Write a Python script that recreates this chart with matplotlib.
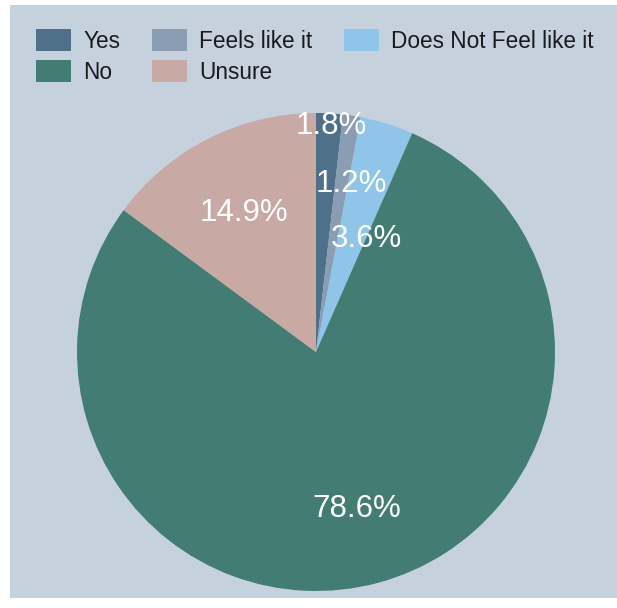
import numpy as np
import matplotlib.pyplot as plt
from matplotlib.patches import Patch, Rectangle
from matplotlib.transforms import offset_copy

plt.rcParams['font.family'] = ['Liberation Sans', 'DejaVu Sans']

# Survey answers, clockwise from 12 o'clock
answers = ["Yes", "Feels like it", "Does Not Feel like it", "No", "Unsure"]
shares = [1.8, 1.2, 3.6, 78.6, 14.9]
colors = ["#4e7089", "#8a9db3", "#8ec5e8", "#427c73", "#c8a9a3"]

# where the percentage text sits (fraction of radius, extra clockwise turn in degrees)
label_radius = [0.96, 0.73, 0.53, 0.665, 0.665]
label_turn = [0.5, 3.0, 6.0, 0.0, 0.0]

W, H = 617, 608
fig = plt.figure(figsize=(W / 100, H / 100), dpi=100, facecolor="white")
fig.patches.append(Rectangle((10 / W, 10 / H), 1 - 10 / W, 1 - 15 / H,
                             transform=fig.transFigure, facecolor="#c5d2de",
                             edgecolor="none", zorder=-5))

cx, cy, R = 316, 352, 239
ax = fig.add_axes([(cx - R) / W, (H - cy - R) / H, 2 * R / W, 2 * R / H])
ax.set_facecolor("none")
ax.set_zorder(2)

wedges, _ = ax.pie(shares, colors=colors, startangle=90, counterclock=False,
                   radius=1, wedgeprops=dict(linewidth=0))
ax.set_xlim(-1, 1)
ax.set_ylim(-1, 1)
ax.set_aspect("equal")
ax.axis("off")

# nudge the percentage text a little below its anchor
text_tf = offset_copy(ax.transData, fig=fig, y=-3, units="dots")
total = sum(shares)
start = 0.0
for val, rad, turn in zip(shares, label_radius, label_turn):
    mid = np.deg2rad((start + val / 2) / total * 360 + turn)
    ax.text(rad * np.sin(mid), rad * np.cos(mid), f"{val}%", color="white",
            fontsize=22.5, ha="center", va="center", transform=text_tf)
    start += val

order = [0, 3, 1, 4, 2]
handles = [Patch(facecolor=colors[i], edgecolor="none", label=answers[i]) for i in order]
leg = fig.legend(handles=handles, ncol=3, loc="upper left",
                 bbox_to_anchor=(36 / W, 1 - 29 / H), frameon=False,
                 fontsize=16.3, handlelength=1.55, handleheight=1.15,
                 handletextpad=0.55, columnspacing=1.38, labelspacing=0.3,
                 borderpad=0, borderaxespad=0, labelcolor="#1a1a1a")
leg.set_zorder(3)

fig.savefig("out.png", dpi=100, facecolor="white")
